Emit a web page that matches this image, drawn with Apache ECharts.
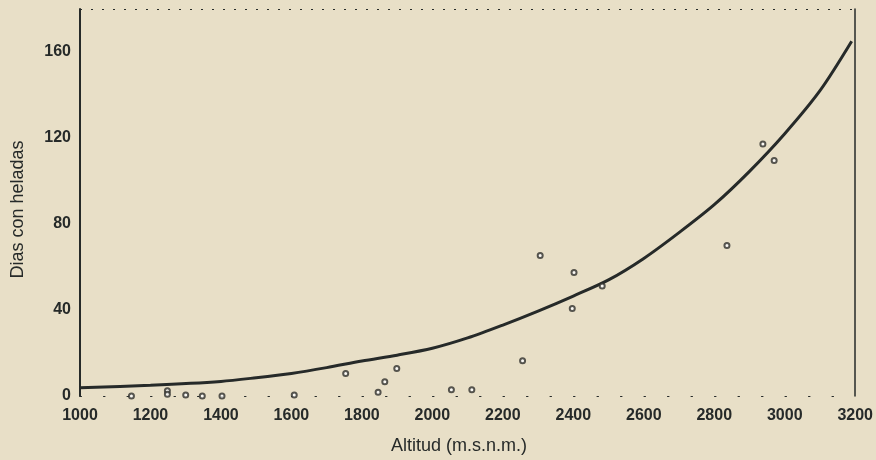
<!DOCTYPE html>
<html>
<head>
<meta charset="utf-8">
<script src="https://cdn.jsdelivr.net/npm/echarts@6/dist/echarts.min.js"></script>
<style>
html,body{margin:0;padding:0;background:#e8dfc7;}
#c{width:876px;height:460px;}
</style>
</head>
<body>
<div id="c"></div>
<script>
// Fitted curve (altitude, days with frost)
const curveAlt  = [1000, 1200, 1400, 1500, 1600, 1700, 1800, 1900, 2000, 2100, 2200, 2300, 2400, 2500, 2600, 2700, 2800, 2900, 3000, 3100, 3190];
const curveDays = [3.8, 5, 6.8, 8.5, 10.5, 13.2, 16.3, 19, 22.2, 27, 33, 39.5, 46.5, 54, 64, 76, 89, 104.5, 122, 142, 165];

// Observed stations
const obsAlt  = [1146, 1248, 1248, 1300, 1347, 1403, 1608, 1754, 1846, 1865, 1899, 2054, 2112, 2256, 2306, 2397, 2402, 2482, 2836, 2938, 2970];
const obsDays = [0, 2.5, 0.8, 0.5, 0, 0, 0.5, 10.5, 1.7, 6.6, 12.8, 2.9, 2.9, 16.4, 65.4, 40.7, 57.4, 51.2, 70, 117.2, 109.5];

const xTicks = [1000, 1200, 1400, 1600, 1800, 2000, 2200, 2400, 2600, 2800, 3000, 3200];
const yTicks = [0, 40, 80, 120, 160];
const yTop = 180;

const ink = '#262a29';
const font = '"Liberation Sans", Arial, sans-serif';

const chart = echarts.init(document.getElementById('c'), null, {renderer: 'canvas'});
chart.setOption({
  backgroundColor: '#e8dfc7',
  animation: false,
  grid: {left: 80, right: 18, top: 9, bottom: 63},
  xAxis: {
    type: 'value', min: 1000, max: 3200, interval: 200,
    name: 'Altitud (m.s.n.m.)', nameLocation: 'middle', nameGap: 41,
    nameTextStyle: {color: ink, fontFamily: font, fontSize: 18, padding: [0, 17, 0, 0]},
    axisLine: {show: true, onZero: false, lineStyle: {color: ink, width: 1, type: [1.5, 22]}},
    axisTick: {show: false},
    splitLine: {show: false},
    axisLabel: {color: ink, fontFamily: font, fontSize: 16, fontWeight: 'bold', margin: 12,
      formatter: v => xTicks.indexOf(v) >= 0 ? String(v) : ''}
  },
  yAxis: [{
    type: 'value', min: 0, max: yTop, interval: 40,
    name: 'Dias con heladas', nameLocation: 'middle', nameGap: 53,
    nameTextStyle: {color: ink, fontFamily: font, fontSize: 18, padding: [0, 14, 0, 0]},
    axisLine: {show: true, lineStyle: {color: ink, width: 2}},
    axisTick: {show: false},
    splitLine: {show: false},
    axisLabel: {color: ink, fontFamily: font, fontSize: 16, fontWeight: 'bold', margin: 9,
      showMaxLabel: false,
      formatter: v => yTicks.indexOf(v) >= 0 ? String(v) : ''}
  }, {
    type: 'value', position: 'right', min: 0, max: yTop,
    axisLine: {show: true, lineStyle: {color: ink, width: 1.5}},
    axisTick: {show: false}, axisLabel: {show: false}, splitLine: {show: false}
  }],
  series: [{
    type: 'line',
    data: curveAlt.map((a, i) => [a, curveDays[i]]),
    smooth: 0.3,
    showSymbol: false,
    lineStyle: {color: ink, width: 3},
    z: 3,
    markLine: {
      silent: true, symbol: 'none', label: {show: false},
      lineStyle: {color: ink, width: 1.2, type: [2, 9]},
      data: [{yAxis: yTop}]
    }
  }, {
    type: 'scatter',
    data: obsAlt.map((a, i) => [a, obsDays[i]]),
    symbol: 'emptyCircle',
    symbolSize: 5,
    itemStyle: {color: '#2e2e2a', borderColor: '#2e2e2a', borderWidth: 1},
    z: 4
  }]
});
</script>
</body>
</html>
